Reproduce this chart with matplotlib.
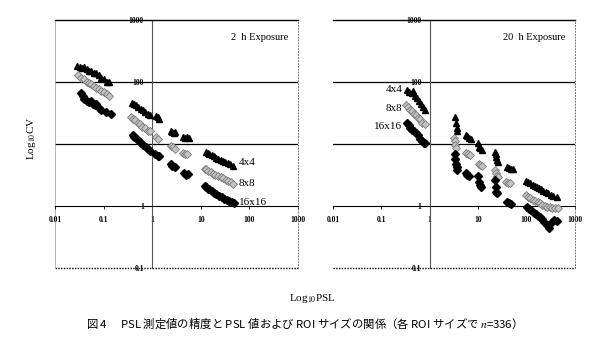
import matplotlib
matplotlib.use("Agg")
import matplotlib.pyplot as plt

plt.rcParams["font.family"] = ["Liberation Serif", "Noto Sans CJK JP", "DejaVu Sans"]
plt.rcParams["mathtext.fontset"] = "stix"

# --- 2 h exposure: PSL vs CV per ROI size ---
psl_2h_4 = [0.028, 0.032, 0.036, 0.040, 0.045, 0.050, 0.056, 0.063, 0.070, 0.080, 0.090, 0.100, 0.115, 0.130,
            0.38, 0.42, 0.47, 0.52, 0.58, 0.65, 0.72, 0.80, 0.90, 1.2, 1.3, 1.4,
            2.4, 2.6, 2.8, 3.0, 4.4, 4.8, 5.2, 5.6,
            13, 14, 15, 17, 19, 21, 23, 26, 29, 32, 36, 40, 45]
cv_2h_4 = [180, 178, 170, 172, 160, 150, 152, 140, 138, 128, 118, 112, 102, 100,
           46, 44, 42, 40, 37, 35, 33, 31, 29, 28, 27, 25,
           16, 15.5, 15, 15.5, 13, 12.5, 12.8, 12.5,
           7.5, 7.2, 7.0, 6.6, 6.4, 6.0, 5.8, 5.6, 5.3, 5.1, 4.9, 4.7, 4.5]

psl_2h_8 = [0.030, 0.034, 0.040, 0.045, 0.050, 0.056, 0.063, 0.070, 0.080, 0.090, 0.100, 0.115, 0.130,
            0.36, 0.40, 0.45, 0.50, 0.56, 0.63, 0.72, 0.80, 0.90, 1.2, 1.3,
            2.4, 2.7, 3.0, 4.4, 4.8, 5.3,
            12, 13, 14, 16, 18, 20, 23, 26, 29, 33, 37, 42, 47]
cv_2h_8 = [128, 118, 112, 100, 98, 92, 88, 80, 78, 72, 68, 64, 60,
           27, 25, 24, 22, 21, 19, 18, 16.5, 16, 13, 12,
           9.2, 8.8, 8.4, 7.3, 7.0, 6.8,
           4.0, 3.9, 3.7, 3.5, 3.3, 3.2, 3.0, 2.9, 2.8, 2.6, 2.5, 2.4, 2.3]

psl_2h_16 = [0.035, 0.037, 0.040, 0.045, 0.050, 0.055, 0.060, 0.065, 0.070, 0.080, 0.090, 0.110, 0.140,
             0.40, 0.43, 0.48, 0.53, 0.60, 0.66, 0.74, 0.82, 0.90, 1.15, 1.30, 1.40,
             2.4, 2.6, 2.9, 4.5, 4.9, 5.4,
             12, 13, 14, 15, 17, 19, 21, 24, 27, 30, 34, 38, 43, 48]
cv_2h_16 = [66, 60, 54, 50, 48, 50, 44, 42, 45, 38, 36, 33, 31,
            14, 13, 12, 11.2, 10.3, 9.7, 9.0, 8.3, 7.6, 6.8, 6.3, 6.5,
            4.7, 4.4, 4.2, 3.4, 3.2, 3.3,
            2.1, 2.0, 1.9, 1.85, 1.75, 1.65, 1.55, 1.45, 1.4, 1.3, 1.25, 1.2, 1.15, 1.12]

# --- 20 h exposure ---
psl_20h_4 = [0.34, 0.38, 0.42, 0.46, 0.50, 0.55, 0.60, 0.66, 0.72, 0.80,
             3.4, 3.5, 3.6, 3.7, 5.5, 6.0, 6.5, 7.0, 10, 10.5, 11, 12,
             22, 23, 24, 25, 26, 40, 44, 48, 52,
             100, 110, 120, 135, 150, 165, 180, 200, 225, 250, 280, 320, 360, 420]
cv_20h_4 = [74, 70, 66, 72, 60, 55, 50, 45, 40, 35,
            27, 22, 18, 16, 14, 13.5, 12.5, 12, 10.5, 9, 8.5, 8,
            7.5, 6.8, 6.2, 5.6, 5.2, 4.2, 4.1, 4.0, 3.9,
            2.5, 2.4, 2.35, 2.2, 2.1, 2.0, 1.95, 1.85, 1.75, 1.7, 1.6, 1.5, 1.45, 1.38]

psl_20h_8 = [0.32, 0.36, 0.40, 0.44, 0.48, 0.52, 0.57, 0.62, 0.70, 0.78,
             3.2, 3.3, 3.4, 3.5, 5.6, 6.2, 6.8, 10.5, 11, 12,
             22, 23, 25, 26, 38, 42, 46,
             100, 110, 120, 135, 150, 170, 190, 210, 240, 270, 300, 340, 390, 440]
cv_20h_8 = [42, 40, 36, 34, 31, 29, 26, 25, 22, 21,
            12.5, 11, 9.5, 8.6, 7.3, 6.8, 6.6, 4.8, 4.6, 4.5,
            3.8, 3.4, 3.1, 2.9, 2.4, 2.35, 2.35,
            1.5, 1.4, 1.35, 1.25, 1.2, 1.15, 1.1, 1.05, 1.0, 0.98, 0.96, 0.94, 0.93, 0.92]

psl_20h_16 = [0.34, 0.37, 0.40, 0.44, 0.48, 0.52, 0.56, 0.62, 0.68, 0.75, 0.80,
              3.3, 3.4, 3.5, 3.6, 3.7, 5.5, 6.0, 6.5, 10, 10.5, 11, 11.5,
              22, 23, 24, 25, 40, 44, 48,
              105, 115, 125, 140, 155, 170, 190, 210, 230, 260, 290, 330, 380, 430]
cv_20h_16 = [22, 20, 18, 17, 16, 15, 14, 12, 11, 10.5, 10.3,
             7.0, 5.8, 4.8, 4.2, 3.8, 3.4, 3.2, 3.1, 3.0, 2.4, 2.2, 2.0,
             2.6, 2.0, 1.7, 1.6, 1.15, 1.1, 1.08,
             0.95, 0.9, 0.85, 0.78, 0.74, 0.7, 0.66, 0.62, 0.55, 0.5, 0.45, 0.55, 0.6, 0.58]

roi_labels = ["4x4", "8x8", "16x16"]
titles = ["2  h Exposure", "20  h Exposure"]
x_ticks = [0.01, 0.1, 1, 10, 100, 1000]
x_ticklabels = ["0.01", "0.1", "1", "10", "100", "1000"]
y_ticks = [0.1, 1, 10, 100, 1000]
y_ticklabels = ["0.1", "1", "", "100", "1000"]

panels = [
    (psl_2h_4, cv_2h_4, psl_2h_8, cv_2h_8, psl_2h_16, cv_2h_16),
    (psl_20h_4, cv_20h_4, psl_20h_8, cv_20h_8, psl_20h_16, cv_20h_16),
]

fig = plt.figure(figsize=(6.0, 3.4), dpi=100)
ax_l = fig.add_axes([0.0917, 0.2118, 0.405, 0.729])
ax_r = fig.add_axes([0.555, 0.2118, 0.403, 0.729])

for ax, data, title in zip([ax_l, ax_r], panels, titles):
    x4, y4, x8, y8, x16, y16 = data
    ax.set_xscale("log")
    ax.set_yscale("log")
    ax.set_xlim(0.01, 1000)
    ax.set_ylim(0.1, 1000)

    # gridlines at 10 and 100
    for yv in (10, 100):
        ax.axhline(yv, color="black", lw=0.9, zorder=1)
    ax.axhline(0.1, color="black", lw=1.0, ls=(0, (1, 1)), clip_on=False, zorder=1)

    ax.plot(x4, y4, ls="none", marker="^", ms=4.5, mfc="black", mec="black", zorder=3)
    ax.plot(x8, y8, ls="none", marker="D", ms=3.8, mfc="#c4c4c4", mec="#7a7a7a", mew=0.6, zorder=3)
    ax.plot(x16, y16, ls="none", marker="D", ms=3.8, mfc="black", mec="black", zorder=3)

    # axes cross at (1, 1)
    ax.spines["bottom"].set_position(("data", 1))
    ax.spines["left"].set_position(("data", 1))
    ax.spines["bottom"].set_linewidth(0.8)
    ax.spines["left"].set_linewidth(0.8)
    ax.spines["left"].set_color("#555555")
    ax.spines["top"].set_linestyle((0, (1, 1)))
    ax.spines["top"].set_linewidth(1.0)
    ax.spines["right"].set_linestyle((0, (1, 2)))
    ax.spines["right"].set_linewidth(0.7)
    ax.spines["right"].set_color("#777777")

    ax.set_xticks(x_ticks)
    ax.set_xticklabels(x_ticklabels)
    ax.set_yticks(y_ticks)
    ax.set_yticklabels(y_ticklabels)
    ax.minorticks_off()
    ax.tick_params(axis="x", direction="out", length=2, width=0.6, labelsize=5.5, pad=5)
    ax.tick_params(axis="y", direction="in", length=0, labelsize=5.5, pad=6)
    for lbl in ax.get_xticklabels() + ax.get_yticklabels():
        lbl.set_fontweight("bold")

    ax.text(0.96, 0.93, title, transform=ax.transAxes, ha="right", va="center", fontsize=7.5)

# light frame edge at PSL = 0.01
ax_l.axvline(0.01, color="#aaaaaa", lw=0.6, clip_on=False, zorder=1)

# ROI size labels
for lbl, yv in zip(roi_labels, [5.0, 2.3, 1.12]):
    ax_l.text(60, yv, lbl, ha="left", va="center", fontsize=8)
for lbl, yv in zip(roi_labels, [77, 37, 19]):
    ax_r.text(0.27, yv, lbl, ha="right", va="center", fontsize=8)

fig.text(0.052, 0.594, "Log$_{10}$CV", rotation=90, ha="center", va="center", fontsize=8)
fig.text(0.52, 0.123, "Log$_{10}$PSL", ha="center", va="center", fontsize=8)
# mathtext renders the plain part with a single font, so use the CJK family here
fig.text(0.502, 0.05,
         "図 4\u3000 PSL 測定値の精度と PSL 値および ROI サイズの関係（各 ROI サイズで $n$=336）",
         ha="center", va="center", fontsize=8.2, family="Noto Sans CJK JP")

fig.savefig("out.png", dpi=100)
